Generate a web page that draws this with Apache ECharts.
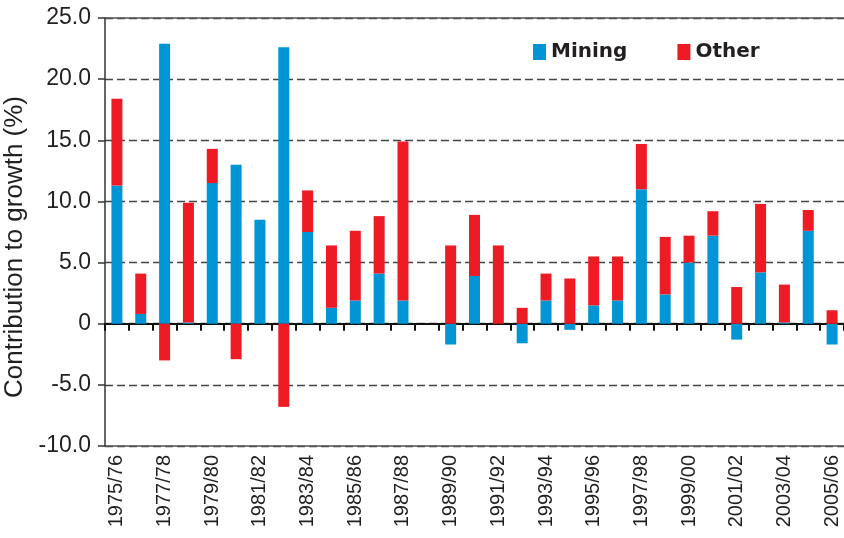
<!DOCTYPE html>
<html>
<head>
<meta charset="utf-8">
<script src="https://cdn.jsdelivr.net/npm/echarts@6/dist/echarts.min.js"></script>
<style>html,body{margin:0;padding:0;background:#fff;}#c{width:844px;height:538px;}</style>
</head>
<body>
<div id="c"></div>
<script>
var categories = ['1975/76','1976/77','1977/78','1978/79','1979/80','1980/81','1981/82','1982/83','1983/84','1984/85','1985/86','1986/87','1987/88','1988/89','1989/90','1990/91','1991/92','1992/93','1993/94','1994/95','1995/96','1996/97','1997/98','1998/99','1999/00','2000/01','2001/02','2002/03','2003/04','2004/05','2005/06'];
var mining = [11.3, 0.8, 22.9, 0.1, 11.5, 13.0, 8.5, 22.6, 7.5, 1.3, 1.9, 4.1, 1.9, 0, -1.7, 3.9, 0, -1.6, 1.9, -0.5, 1.5, 1.9, 11.0, 2.4, 5.0, 7.2, -1.3, 4.2, 0.1, 7.6, -1.7];
var other = [7.1, 3.3, -3.0, 9.8, 2.8, -2.9, 0, -6.8, 3.4, 5.1, 5.7, 4.7, 13.0, 0, 6.4, 5.0, 6.4, 1.3, 2.2, 3.7, 4.0, 3.6, 3.7, 4.7, 2.2, 2.0, 3.0, 5.6, 3.1, 1.7, 1.1];
var yMin = -10, yMax = 25, yStep = 5;

var chart = echarts.init(document.getElementById('c'));
var txt = '#231f20';
chart.setOption({
  animation: false,
  grid: { left: 105, right: 0, top: 18, bottom: 92, outerBoundsMode: 'none', containLabel: false },
  legend: {
    left: 528, top: 37,
    itemWidth: 13, itemHeight: 16, itemGap: 50,
    icon: 'rect',
    textStyle: { fontFamily: 'DejaVu Sans', fontWeight: 'bold', fontSize: 20, color: txt },
    data: ['Mining', 'Other']
  },
  xAxis: [
    {
      type: 'category', data: categories, position: 'bottom',
      axisLine: { onZero: false, lineStyle: { color: '#555', width: 1.5 } },
      axisTick: { show: false },
      axisLabel: { interval: 1, rotate: 90, margin: 9, fontFamily: 'Liberation Sans', fontSize: 20, color: txt }
    },
    {
      type: 'category', data: categories, position: 'top',
      axisLine: { onZero: false, lineStyle: { color: '#555', width: 1.5 } },
      axisTick: { show: false }, axisLabel: { show: false }
    },
    {
      type: 'category', data: categories, position: 'bottom',
      axisLine: { onZero: true, lineStyle: { color: '#111', width: 2 } },
      axisTick: { show: true, interval: 0, length: 7, lineStyle: { color: '#111', width: 2 } },
      axisLabel: { show: false }
    }
  ],
  yAxis: {
    type: 'value', min: yMin, max: yMax, interval: yStep,
    name: 'Contribution to growth (%)', nameLocation: 'middle', nameGap: 73,
    nameTextStyle: { fontFamily: 'Liberation Sans', fontSize: 26, color: txt, padding: [0, 30, 0, 0] },
    axisLine: { show: true, lineStyle: { color: '#333', width: 1.5 } },
    axisTick: { show: true, length: 7, lineStyle: { color: '#333', width: 1.5 } },
    axisLabel: {
      margin: 14, fontFamily: 'Liberation Sans', fontSize: 23, color: txt,
      formatter: function (v) { return v === 0 ? '0' : v.toFixed(1); }
    },
    splitLine: { show: true, lineStyle: { color: '#444', width: 1.3, type: [8, 4] } }
  },
  series: [
    { name: 'Mining', type: 'bar', stack: 'total', xAxisIndex: 0, barWidth: 11, data: mining, itemStyle: { color: '#0096d6' } },
    { name: 'Other', type: 'bar', stack: 'total', xAxisIndex: 0, barWidth: 11, data: other, itemStyle: { color: '#ed1c24' } }
  ]
});
</script>
</body>
</html>
